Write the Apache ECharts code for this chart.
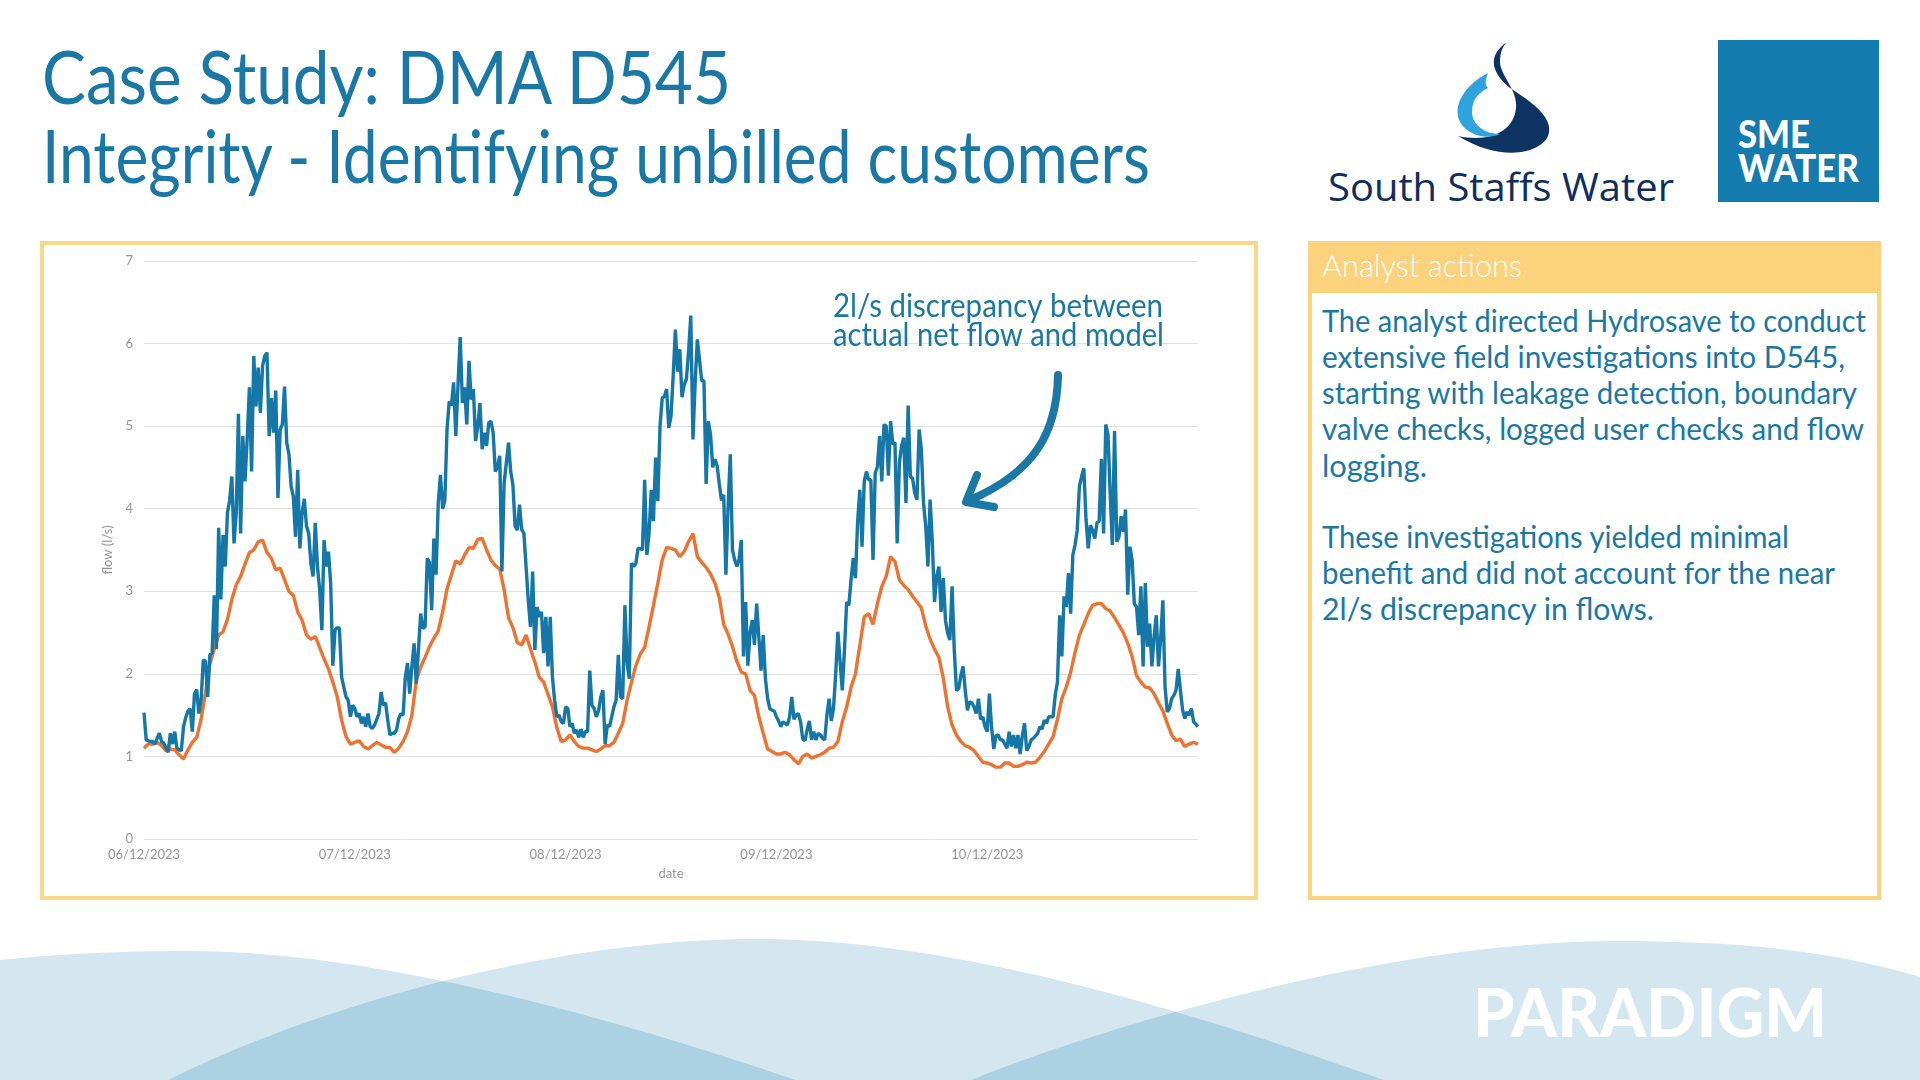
<!DOCTYPE html>
<html><head><meta charset="utf-8">
<script src="https://cdn.jsdelivr.net/npm/echarts@6/dist/echarts.min.js"></script>
<style>
html,body{margin:0;padding:0;width:1920px;height:1080px;overflow:hidden;background:#fff;font-family:Lato,"Open Sans",sans-serif;}
.abs{position:absolute;white-space:nowrap;transform-origin:0 0;}
.title{font-size:74px;line-height:74px;color:#1A78A6;font-weight:400;}
.body{font-size:30px;line-height:36px;color:#1A78A6;left:1322px;}
#chart{position:absolute;left:0;top:0;width:1920px;height:1080px;}
</style></head><body>
<svg width="1920" height="1080" style="position:absolute;left:0;top:0">
  <defs>
    <clipPath id="clipA"><path d="M -400 1080 C -200 960, 60 951, 190 951 C 350 951, 560 1000, 796 1080 Z"/></clipPath>
    <clipPath id="clipC"><path d="M 971 1080 C 1120 1020, 1400 941, 1616 941 C 1800 941, 1950 960, 2150 1080 Z"/></clipPath>
  </defs>
  <path d="M -400 1080 C -200 960, 60 951, 190 951 C 350 951, 560 1000, 796 1080 Z" fill="#D4E7F0"/>
  <path d="M 168 1080 C 330 1000, 560 939, 759 939 C 960 939, 1200 1015, 1384 1080 Z" fill="#D4E7F0"/>
  <path d="M 971 1080 C 1120 1020, 1400 941, 1616 941 C 1800 941, 1950 960, 2150 1080 Z" fill="#D4E7F0"/>
  <path d="M 168 1080 C 330 1000, 560 939, 759 939 C 960 939, 1200 1015, 1384 1080 Z" fill="#ABD1E2" clip-path="url(#clipA)"/>
  <path d="M 168 1080 C 330 1000, 560 939, 759 939 C 960 939, 1200 1015, 1384 1080 Z" fill="#ABD1E2" clip-path="url(#clipC)"/>
  <!-- chart box -->
  <rect x="42" y="243" width="1214" height="655" fill="#fff" stroke="#FAD889" stroke-width="4"/>
  <!-- panel -->
  <rect x="1310" y="243" width="569" height="655" fill="#fff" stroke="#FCD47E" stroke-width="4"/>
  <rect x="1308" y="241" width="573" height="52" fill="#FCD27C"/>
  <!-- South Staffs drop -->
  <path d="M 1507 42 C 1488 55, 1490 72, 1510 88 C 1537 105, 1554 120, 1548 136 C 1540 154, 1500 162, 1458 136 C 1490 143, 1514 131, 1516 108 C 1518 90, 1500 75, 1500 62 C 1500 52, 1503 46, 1507 42 Z" fill="#0D3362"/>
  <path d="M 1488 73 C 1465 85, 1452 105, 1460 122 C 1468 136, 1488 140, 1500 134 C 1485 134, 1472 125, 1472 112 C 1472 98, 1480 92, 1488 88 C 1484 84, 1486 78, 1488 73 Z" fill="#2EA3DD"/>
  <!-- SME box -->
  <rect x="1718" y="40" width="161" height="162" fill="#137BAE"/>
</svg>

<div class="abs title" style="left:42px;top:39px" data-w="689">Case Study: DMA D545</div>
<div class="abs title" style="left:42px;top:118px" data-w="1108">Integrity - Identifying unbilled customers</div>

<div class="abs" style="left:1328px;top:166px;font-family:'Open Sans';font-size:39px;line-height:39px;color:#0F2E5F" data-w="346">South Staffs Water</div>
<div class="abs" style="left:1738px;top:114px;font-size:38px;line-height:38px;font-weight:900;color:#fff" data-w="72">SME</div>
<div class="abs" style="left:1738px;top:148px;font-size:38px;line-height:38px;font-weight:900;color:#fff" data-w="121">WATER</div>

<div class="abs" style="left:1322px;top:250px;font-size:31px;line-height:31px;color:#fff;font-weight:300" data-w="200">Analyst actions</div>
<div class="abs body" style="top:302px" data-w="544">The analyst directed Hydrosave to conduct</div>
<div class="abs body" style="top:338px" data-w="523">extensive field investigations into D545,</div>
<div class="abs body" style="top:374px" data-w="535">starting with leakage detection, boundary</div>
<div class="abs body" style="top:410px" data-w="542">valve checks, logged user checks and flow</div>
<div class="abs body" style="top:447px" data-w="105">logging.</div>
<div class="abs body" style="top:518px" data-w="467">These investigations yielded minimal</div>
<div class="abs body" style="top:554px" data-w="513">benefit and did not account for the near</div>
<div class="abs body" style="top:590px" data-w="332">2l/s discrepancy in flows.</div>

<div class="abs" style="left:1473px;top:978px;font-size:67px;line-height:67px;font-weight:900;color:#fff" data-w="354">PARADIGM</div>

<div id="chart"></div>
<script>
document.querySelectorAll('[data-w]').forEach(function(el){
  var w = el.getBoundingClientRect().width;
  el.style.transform = 'scaleX(' + (parseFloat(el.dataset.w) / w) + ')';
});

// x tick labels (one per day, 24 h apart)
const dateLabels = ['06/12/2023','07/12/2023','08/12/2023','09/12/2023','10/12/2023'];
// actual net flow (l/s), 15-minute readings from 06/12/2023 00:00
const netFlow = [
1.53,1.2,1.19,1.18,1.18,1.15,1.22,1.28,1.18,1.16,
1.1,1.05,1.28,1.15,1.3,1.1,1.08,1.07,1.36,1.47,
1.55,1.58,1.3,1.76,1.81,1.52,1.68,2.17,2.15,1.72,
2.23,2.25,2.95,2.3,3.77,2.9,3.68,3.3,3.95,4.1,
4.39,3.58,3.95,5.15,3.7,4.88,4.33,4.85,5.47,4.45,
5.85,5.24,5.71,5.16,5.73,5.85,5.89,4.88,5.34,4.92,
5.43,4.13,4.96,5.02,5.48,4.8,4.66,4.27,4.15,3.66,
4.47,3.52,3.95,4.12,3.79,3.7,3.34,3.18,3.83,3.3,
3.02,2.53,3.62,3.3,3.48,3.1,2.1,2.53,2.56,2.55,
1.96,1.84,1.72,1.68,1.48,1.62,1.58,1.48,1.52,1.4,
1.48,1.36,1.52,1.36,1.34,1.38,1.45,1.52,1.78,1.62,
1.65,1.44,1.26,1.28,1.28,1.32,1.46,1.52,1.5,1.96,
2.13,1.76,2.09,2.37,1.88,2.3,2.73,2.55,2.57,3.4,
3.35,2.77,3.64,3.2,4.07,4.41,4.0,4.1,4.96,5.3,
5.25,5.53,4.88,5.5,6.08,5.28,5.47,5.02,5.79,5.32,
5.45,4.82,5.0,5.28,4.72,4.92,4.76,5.04,5.06,4.92,
4.45,4.51,4.64,3.24,4.31,4.55,4.8,4.45,4.29,3.79,
3.74,4.05,3.75,3.7,3.3,2.89,2.57,3.24,2.29,2.81,
2.69,2.75,2.25,2.69,2.09,2.69,1.96,1.68,1.48,1.5,
1.42,1.4,1.6,1.58,1.36,1.4,1.28,1.32,1.23,1.33,
1.23,1.3,1.3,2.04,1.62,1.58,1.48,1.55,1.72,1.8,
1.15,1.38,1.36,1.48,1.6,1.68,2.23,1.72,1.7,2.83,
2.13,1.94,3.34,3.3,3.34,3.52,3.52,3.5,4.35,3.44,
3.7,4.23,3.85,4.62,4.09,5.0,5.34,5.36,5.45,4.98,
5.12,5.61,6.17,5.66,5.93,5.35,5.5,5.57,5.9,6.34,
4.84,5.53,6.05,5.8,5.55,5.55,4.3,5.06,4.9,4.5,
4.6,4.52,4.3,4.1,4.17,3.2,4.03,4.66,3.5,3.38,
3.3,3.38,3.62,2.21,2.87,2.1,2.5,2.65,2.35,2.85,
2.45,2.04,2.47,1.94,1.7,1.58,1.56,1.55,1.48,1.43,
1.36,1.42,1.4,1.38,1.48,1.72,1.45,1.5,1.52,1.42,
1.21,1.19,1.32,1.43,1.2,1.3,1.2,1.28,1.26,1.22,
1.2,1.5,1.7,1.43,1.58,2.0,2.51,2.15,1.8,2.29,
2.87,2.83,3.14,3.4,3.16,3.85,4.23,3.54,4.33,4.45,
4.35,4.35,3.38,4.43,4.51,4.88,4.33,5.02,5.0,4.4,
5.06,4.78,4.8,3.58,4.55,4.76,4.86,4.07,5.25,4.39,
4.37,4.19,4.11,4.96,4.72,4.07,3.79,3.3,4.11,3.6,
2.87,3.18,3.3,2.75,3.16,2.65,2.49,2.41,3.06,2.29,
1.8,1.82,1.98,2.09,1.8,1.56,1.66,1.65,1.6,1.52,
1.7,1.45,1.48,1.36,1.3,1.76,1.35,1.09,1.25,1.26,
1.2,1.2,1.15,1.1,1.3,1.12,1.26,1.1,1.26,1.03,
1.25,1.4,1.07,1.12,1.2,1.22,1.25,1.28,1.36,1.33,
1.44,1.4,1.48,1.48,1.48,1.75,1.9,2.71,2.21,2.94,
2.81,3.22,2.73,3.44,3.56,3.74,4.27,4.39,4.49,3.87,
3.52,3.8,3.74,3.64,3.83,3.85,4.6,3.7,5.02,4.9,
4.19,3.56,4.94,3.6,3.66,3.91,3.72,3.99,2.96,3.54,
3.38,2.85,2.81,2.47,3.06,2.09,3.1,2.33,2.61,2.09,
2.45,2.71,2.09,2.43,2.89,1.84,1.54,1.58,1.7,1.74,
1.8,2.06,1.8,1.56,1.46,1.54,1.5,1.58,1.42,1.39,
1.36];
// model flow (l/s), 30-minute readings from 06/12/2023 00:00
const modelFlow = [
1.1,1.15,1.15,1.17,1.13,1.07,1.09,1.08,1.02,0.97,
1.08,1.17,1.23,1.45,1.77,2.12,2.3,2.47,2.51,2.66,
2.9,3.08,3.18,3.33,3.47,3.5,3.6,3.62,3.47,3.4,
3.26,3.28,3.14,3.0,2.95,2.75,2.65,2.47,2.42,2.45,
2.32,2.18,2.06,1.9,1.72,1.44,1.24,1.15,1.17,1.19,
1.12,1.09,1.13,1.17,1.14,1.11,1.11,1.05,1.1,1.18,
1.3,1.5,1.92,2.08,2.2,2.33,2.43,2.52,2.75,3.03,
3.2,3.37,3.33,3.44,3.53,3.52,3.63,3.64,3.5,3.38,
3.31,3.27,3.02,2.68,2.56,2.38,2.35,2.47,2.3,2.14,
1.96,1.9,1.75,1.6,1.35,1.18,1.2,1.26,1.18,1.12,
1.1,1.1,1.08,1.06,1.09,1.13,1.13,1.17,1.28,1.4,
1.68,1.9,2.1,2.24,2.32,2.57,2.83,3.1,3.38,3.53,
3.52,3.5,3.42,3.48,3.6,3.7,3.42,3.35,3.29,3.21,
3.1,2.92,2.6,2.48,2.33,2.15,2.02,2.0,1.8,1.74,
1.48,1.28,1.09,1.06,1.03,1.03,1.05,1.02,0.96,0.91,
1.0,1.03,0.98,1.0,1.02,1.05,1.1,1.11,1.18,1.42,
1.6,1.84,2.0,2.35,2.69,2.73,2.6,2.85,3.06,3.18,
3.42,3.36,3.14,3.07,3.02,2.94,2.87,2.8,2.58,2.42,
2.3,2.2,1.95,1.6,1.38,1.26,1.18,1.13,1.11,1.07,
1.0,0.93,0.92,0.9,0.87,0.87,0.92,0.92,0.88,0.88,
0.9,0.93,0.92,0.93,0.99,1.06,1.15,1.24,1.45,1.7,
1.84,2.02,2.26,2.47,2.6,2.73,2.83,2.85,2.85,2.79,
2.76,2.68,2.59,2.5,2.37,2.21,1.98,1.9,1.84,1.83,
1.76,1.65,1.55,1.4,1.26,1.19,1.21,1.12,1.15,1.17,
1.15];
const annotationLines = ['2l/s discrepancy between', 'actual net flow and model'];

const NET_STEP_H = 0.25, MODEL_STEP_H = 0.5;
const netData = netFlow.map((v, i) => [i * NET_STEP_H, v]);
const modelData = modelFlow.map((v, i) => [i * MODEL_STEP_H, v]);

const ctx = document.createElement('canvas').getContext('2d');
const annoFont = '32px Lato';
ctx.font = annoFont;
const s1 = 330 / ctx.measureText(annotationLines[0]).width;
const s2 = 331 / ctx.measureText(annotationLines[1]).width;

const chart = echarts.init(document.getElementById('chart'), null, {renderer: 'canvas'});
const gray = '#959595';
chart.setOption({
  animation: false,
  grid: {left: 144, right: 722, top: 261, bottom: 241},
  xAxis: {
    type: 'value', min: 0, max: 120, interval: 24,
    name: 'date', nameLocation: 'middle', nameGap: 28,
    nameTextStyle: {color: gray, fontFamily: 'Lato', fontSize: 13},
    axisLine: {show: false}, axisTick: {show: false}, splitLine: {show: false},
    axisLabel: {color: gray, fontFamily: 'Lato', fontSize: 13, margin: 9, showMaxLabel: false,
      formatter: v => dateLabels[Math.round(v / 24)] || ''}
  },
  yAxis: {
    type: 'value', min: 0, max: 7, interval: 1,
    name: 'flow (l/s)', nameLocation: 'middle', nameGap: 21,
    nameTextStyle: {color: gray, fontFamily: 'Lato', fontSize: 13},
    axisLine: {show: false}, axisTick: {show: false},
    splitLine: {lineStyle: {color: '#E2E2E2', width: 1}},
    axisLabel: {color: gray, fontFamily: 'Lato', fontSize: 13, margin: 11}
  },
  series: [
    {name: 'Model', type: 'line', data: modelData, showSymbol: false, smooth: false,
      lineStyle: {color: '#EE7230', width: 3.4}, itemStyle: {color: '#EE7230'}},
    {name: 'Actual net flow', type: 'line', data: netData, showSymbol: false,
      lineStyle: {color: '#1577A8', width: 3.4}, itemStyle: {color: '#1577A8'}}
  ],
  graphic: [
    {type: 'text', x: 833, y: 307, scaleX: s1, z: 100,
      style: {text: annotationLines[0], font: annoFont, fill: '#1A78A6', align: 'left', verticalAlign: 'middle'}},
    {type: 'text', x: 833, y: 336, scaleX: s2, z: 100,
      style: {text: annotationLines[1], font: annoFont, fill: '#1A78A6', align: 'left', verticalAlign: 'middle'}},
    {type: 'bezierCurve', z: 100,
      shape: {x1: 1058, y1: 375, cpx1: 1057, cpy1: 432, cpx2: 1035, cpy2: 472, x2: 970, y2: 500},
      style: {stroke: '#1A78A6', lineWidth: 8, lineCap: 'round', fill: 'none'}},
    {type: 'polyline', z: 100,
      shape: {points: [[977, 475], [966, 502], [994, 507]]},
      style: {stroke: '#1A78A6', lineWidth: 8, lineCap: 'round', lineJoin: 'round', fill: 'none'}}
  ]
});
</script>
</body></html>
